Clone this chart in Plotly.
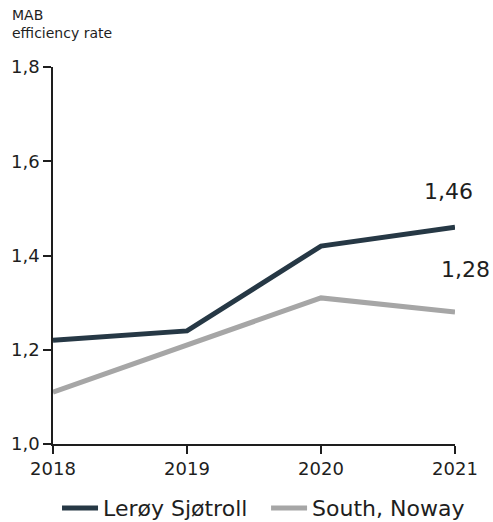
import plotly.graph_objects as go

years = [2018, 2019, 2020, 2021]
leroy = [1.22, 1.24, 1.42, 1.46]
south = [1.11, 1.21, 1.31, 1.28]
y_ticks = [1.0, 1.2, 1.4, 1.6, 1.8]

DARK = "#263845"
GREY = "#a6a6a6"
INK = "#1e1e1e"
FONT = "DejaVu Sans, sans-serif"

fig = go.Figure()
fig.add_trace(go.Scatter(x=years, y=leroy, mode="lines", name="Lerøy Sjøtroll",
                         line=dict(color=DARK, width=5), legend="legend"))
fig.add_trace(go.Scatter(x=years, y=south, mode="lines", name="South, Noway",
                         line=dict(color=GREY, width=5), legend="legend2"))

# value labels at the last year
fig.add_annotation(x=years[-1], y=leroy[-1], text=f"{leroy[-1]:.2f}".replace(".", ","),
                   showarrow=False, xanchor="right", yanchor="bottom", yshift=21, xshift=20,
                   font=dict(size=22, color=INK, family=FONT))
fig.add_annotation(x=years[-1], y=south[-1], text=f"{south[-1]:.2f}".replace(".", ","),
                   showarrow=False, xanchor="right", yanchor="bottom", yshift=28, xshift=37,
                   font=dict(size=22, color=INK, family=FONT))

# axis title above the y axis
fig.add_annotation(x=0, y=1, xref="paper", yref="paper", xanchor="left", yanchor="bottom",
                   xshift=-43, yshift=24, text="MAB<br>efficiency rate", align="left",
                   showarrow=False, font=dict(size=14, color=INK, family=FONT))

legend_style = dict(orientation="h", xanchor="left", y=-0.17, yanchor="middle",
                    itemwidth=36, font=dict(size=22, color=INK, family=FONT))

fig.update_layout(
    width=493, height=522,
    margin=dict(l=53, r=38, t=67, b=78, autoexpand=False),
    paper_bgcolor="white", plot_bgcolor="white",
    separators=",.",
    showlegend=True,
    legend=dict(x=0.01, **legend_style),
    legend2=dict(x=0.53, **legend_style),
    font=dict(family=FONT, color=INK),
)
fig.update_xaxes(range=[2018, 2021], tickvals=years, ticktext=[str(y) for y in years],
                 showgrid=False, zeroline=False, showline=True, linecolor=INK, linewidth=1.5,
                 ticks="outside", ticklen=8, tickcolor=INK, tickwidth=1.5,
                 tickfont=dict(size=18, family=FONT, color=INK))
fig.update_yaxes(range=[1.0, 1.8], tickvals=y_ticks, tickformat=".1f",
                 showgrid=False, zeroline=False, showline=True, linecolor=INK, linewidth=1.5,
                 ticks="outside", ticklen=8, tickcolor=INK, tickwidth=1.5,
                 tickfont=dict(size=18, family=FONT, color=INK))

fig.write_html("out.html")
